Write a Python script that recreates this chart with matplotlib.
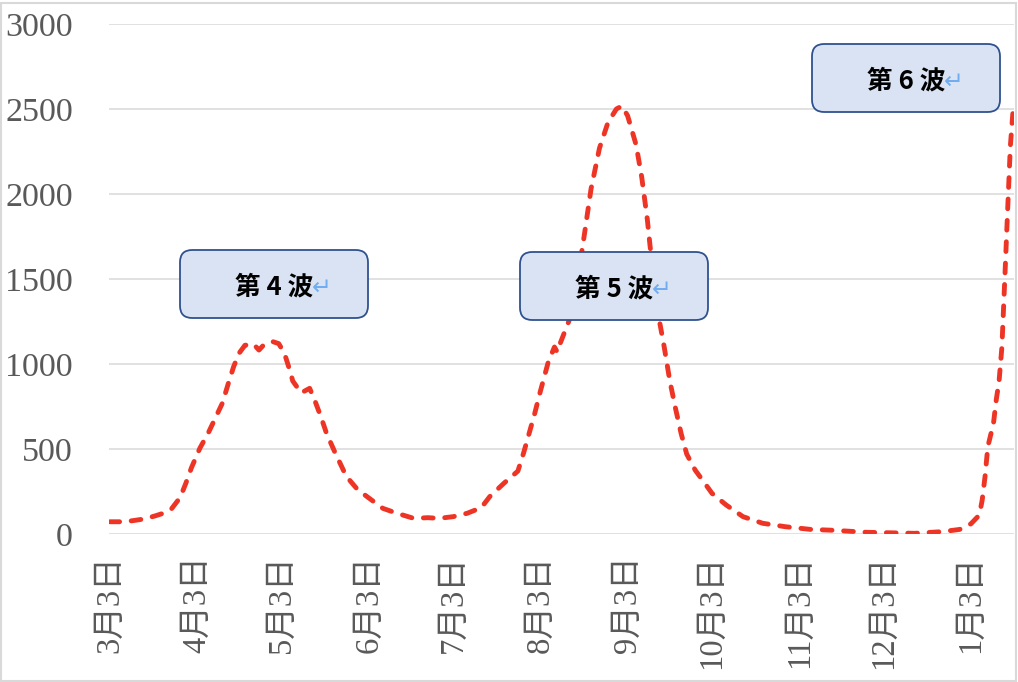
import pandas as pd
import matplotlib.pyplot as plt
from matplotlib.patches import FancyBboxPatch, Rectangle

# 日数 (2021年3月3日からの経過日) と値
day_offsets = [0, 4, 8, 12, 16, 19, 22, 25, 27, 29, 32, 35, 38, 40, 42, 44, 46, 48,
               51, 53, 55, 58, 60, 62, 64, 65, 68, 71, 73, 75, 77, 80, 82, 84, 88,
               93, 97, 102, 108, 113, 117, 122, 127, 132, 135, 140, 145, 147, 149,
               151, 153, 156, 157, 158, 159, 160, 164, 168, 171, 174, 177, 180, 182,
               184, 187, 189, 191, 192, 195, 197, 199, 201, 203, 205, 208, 211, 214,
               219, 225, 232, 240, 249, 257, 269, 286, 296, 302, 306, 309, 310, 311,
               312, 314, 315, 316, 317, 318, 319, 320, 321]
values = [72, 72, 78, 88, 106, 122, 150, 215, 298, 390, 505, 595, 700, 770, 880, 985,
          1065, 1110, 1118, 1082, 1118, 1131, 1120, 1065, 960, 900, 830, 857, 778, 690,
          592, 480, 410, 340, 262, 200, 151, 122, 92, 96, 92, 102, 122, 155, 220, 298,
          370, 475, 592, 710, 840, 1024, 1060, 1100, 1070, 1120, 1290, 1690, 2030, 2270,
          2420, 2500, 2518, 2460, 2290, 2100, 1850, 1690, 1280, 1100, 900, 740, 592, 470,
          376, 308, 239, 171, 102, 63, 43, 27, 22, 10, 4, 14, 27, 60, 112, 200, 337, 514,
          650, 790, 900, 1100, 1490, 1890, 2280, 2500]

tick_dates = ["2021-03-03", "2021-04-03", "2021-05-03", "2021-06-03", "2021-07-03",
              "2021-08-03", "2021-09-03", "2021-10-03", "2021-11-03", "2021-12-03",
              "2022-01-03"]
tick_labels = ["3月3日", "4月3日", "5月3日", "6月3日", "7月3日", "8月3日", "9月3日",
               "10月3日", "11月3日", "12月3日", "1月3日"]
wave_labels = ["第 4 波", "第 5 波", "第 6 波"]

start = pd.Timestamp("2021-03-03")
dates = start + pd.to_timedelta(day_offsets, unit="D")
ticks = pd.to_datetime(tick_dates)

W, H = 1018, 682
fig = plt.figure(figsize=(W / 100, H / 100), dpi=100)
ax = fig.add_axes([109 / W, (H - 534) / H, 905 / W, 510 / H])

ax.plot(dates, values, color="#EE3425", lw=3.5, ls=(0, (2.0, 2.4)),
        dash_capstyle="round", solid_joinstyle="round")

ax.set_ylim(0, 3000)
ax.set_yticks(range(0, 3001, 500))
ax.set_xlim(start - pd.Timedelta(days=0.3), start + pd.Timedelta(days=321.3))
ax.set_xticks(ticks)
ax.set_xticklabels(tick_labels, rotation=90)
ax.grid(axis="y", color="#D9D9D9", lw=1.1)
ax.set_axisbelow(True)
for s in ax.spines.values():
    s.set_visible(False)
ax.tick_params(length=0, colors="#595959")
ax.tick_params(axis="y", pad=26)
ax.tick_params(axis="x", pad=15)
for lab in ax.get_yticklabels():
    lab.set_family(["Liberation Serif", "Noto Sans CJK JP"])
    lab.set_fontsize(24.5)
for lab in ax.get_xticklabels():
    lab.set_family(["Liberation Serif", "Noto Sans CJK JP"])
    lab.set_fontsize(23.5)

# 注釈ボックス (ピクセル位置: 左, 上, 右, 下)
boxes = [(180, 250, 368, 318), (520, 252, 708, 320), (812, 44, 1000, 112)]
for (x0, y0, x1, y1), txt in zip(boxes, wave_labels):
    patch = FancyBboxPatch((x0 / W, 1 - y1 / H), (x1 - x0) / W, (y1 - y0) / H,
                           boxstyle="round,pad=0,rounding_size=0.012",
                           transform=fig.transFigure, facecolor="#DAE3F3",
                           edgecolor="#2F528F", lw=1.3, mutation_aspect=W / H)
    fig.add_artist(patch)
    cx = (x0 + x1) / 2
    cy = (y0 + y1) / 2 + 3
    fig.text(cx / W, 1 - cy / H, txt, ha="center", va="center", fontsize=18.5,
             fontweight="bold", family=["Noto Sans CJK JP", "DejaVu Sans"], color="black")
    fig.text((cx + 38) / W, 1 - (cy + 1) / H, "↵", ha="left", va="center", fontsize=17,
             family=["DejaVu Sans"], color="#70ADF0")

# 外枠
fig.add_artist(Rectangle((1 / W, 1 / H), (W - 3) / W, (H - 4) / H, transform=fig.transFigure,
                         fill=False, edgecolor="#D9D9D9", lw=1.5))

fig.savefig("out.png", dpi=100)
